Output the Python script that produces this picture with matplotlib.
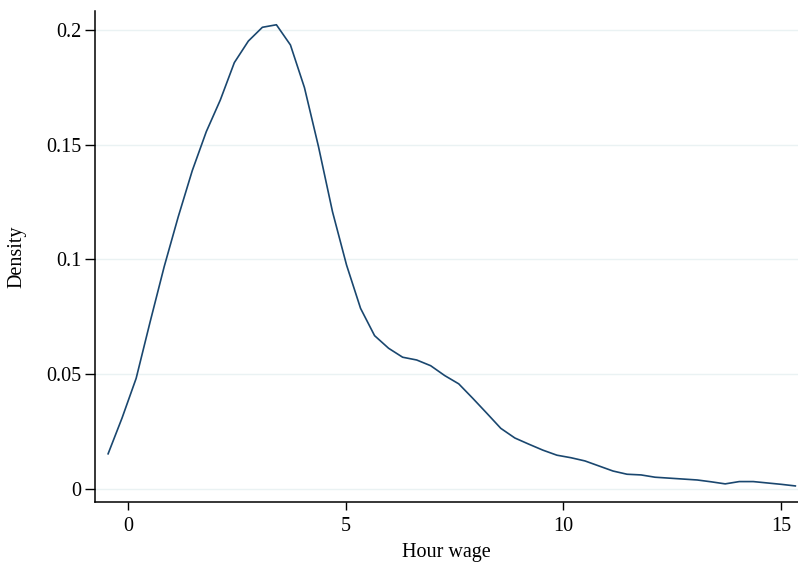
import numpy as np
import matplotlib
matplotlib.use("Agg")
import matplotlib.pyplot as plt

# kernel density estimate, 50 evaluation points
x_start = -0.459
x_step = 0.3222
density = [0.0153, 0.031, 0.0482, 0.0729, 0.0969, 0.1186, 0.1387, 0.1557, 0.1695, 0.1858,
           0.1952, 0.2012, 0.2023, 0.1935, 0.1749, 0.1492, 0.1208, 0.0976, 0.0787, 0.0668,
           0.0613, 0.0574, 0.0562, 0.0537, 0.0494, 0.0458, 0.0395, 0.0330, 0.0264, 0.0222,
           0.0195, 0.0169, 0.0147, 0.0136, 0.0122, 0.0100, 0.0078, 0.0064, 0.0061, 0.0051,
           0.0047, 0.0043, 0.0039, 0.0031, 0.0022, 0.0032, 0.0032, 0.0026, 0.0020, 0.0013]
wage = [x_start + i * x_step for i in range(len(density))]

x_ticks = [0, 5, 10, 15]
y_ticks = [0, 0.05, 0.1, 0.15, 0.2]
y_labels = ["0", "0.05", "0.1", "0.15", "0.2"]

plt.rcParams['font.family'] = ['Liberation Serif', 'DejaVu Serif']
plt.rcParams['font.size'] = 14.5

fig = plt.figure(figsize=(7.98, 5.65), dpi=100)
ax = fig.add_axes([95 / 798, 63 / 565, 703 / 798, 491 / 565])

ax.plot(wage, density, color='#1a476f', lw=1.2)

ax.set_xlim(-0.76, 15.39)
ax.set_ylim(-0.0057, 0.2083)
ax.set_xticks(x_ticks)
ax.set_yticks(y_ticks)
ax.set_yticklabels(y_labels)
ax.grid(axis='y', color='#eaf2f3', lw=1)
ax.set_axisbelow(True)

for s in ['top', 'right']:
    ax.spines[s].set_visible(False)
for s in ['left', 'bottom']:
    ax.spines[s].set_linewidth(1.1)
ax.tick_params(axis='y', length=7, width=1, pad=3)
ax.tick_params(axis='x', length=6, width=1, pad=5)

ax.set_xlabel("Hour wage")
ax.set_ylabel("Density")
# the reference lets this label run off the bottom; keep it just inside
ax.xaxis.set_label_coords(0.5, -0.083)
ax.yaxis.set_label_coords(-0.097, 0.5)

fig.savefig("out.png", dpi=100)
